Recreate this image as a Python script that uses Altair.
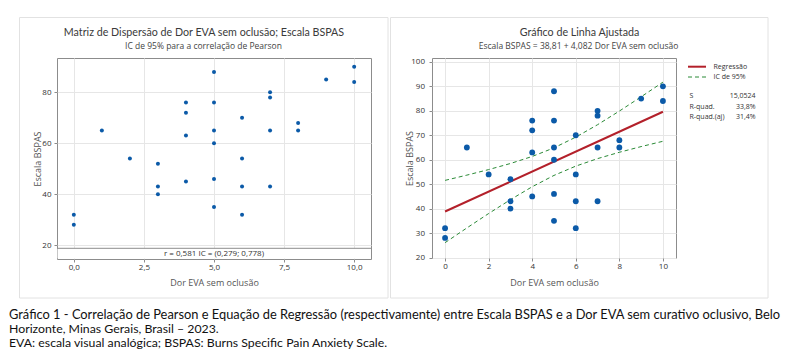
import altair as alt
import pandas as pd

# ---------------- data ----------------
dor_eva = [0, 0, 1, 2, 3, 3, 3, 4, 4, 4, 4, 5, 5, 5, 5, 5, 5,
           6, 6, 6, 6, 7, 7, 7, 7, 8, 8, 9, 10, 10]
escala_bspas = [32, 28, 65, 54, 52, 43, 40, 76, 72, 63, 45, 88, 76, 65, 60, 46, 35,
                70, 54, 43, 32, 80, 78, 65, 43, 68, 65, 85, 90, 84]

reg_x = [0, 10]
reg_y = [38.81, 79.63]

ci_x = [0, 1, 2, 3, 4, 5, 6, 7, 8, 9, 10]
ci_lower = [26.07, 32.09, 37.99, 43.66, 48.95, 53.58, 57.38, 60.45, 63.04, 65.37, 67.54]
ci_upper = [51.55, 53.69, 55.96, 58.45, 61.33, 64.86, 69.23, 74.32, 79.89, 85.73, 91.72]

left_x_ticks = [0, 2.5, 5, 7.5, 10]
left_y_ticks = [20, 40, 60, 80]
right_x_ticks = [0, 2, 4, 6, 8, 10]
right_y_ticks = [20, 30, 40, 50, 60, 70, 80, 90, 100]

legend_labels = ["Regressão", "IC de 95%"]
stat_labels = ["S", "R-quad.", "R-quad.(aj)"]
stat_values = ["15,0524", "33,8%", "31,4%"]

left_title = "Matriz de Dispersão de Dor EVA sem oclusão; Escala BSPAS"
left_subtitle = "IC  de 95% para a correlação de Pearson"
corr_text = "r = 0,581  IC = (0,279; 0,778)"
right_title = "Gráfico de Linha Ajustada"
right_subtitle = "Escala BSPAS = 38,81 + 4,082 Dor EVA sem oclusão"
x_title = "Dor EVA sem oclusão"
y_title = "Escala BSPAS"
caption_lines = [
    "Gráfico 1 - Correlação de Pearson e Equação de Regressão (respectivamente) entre Escala BSPAS e a Dor EVA sem curativo oclusivo, Belo",
    "Horizonte, Minas Gerais, Brasil – 2023.",
    "EVA: escala visual analógica; BSPAS: Burns Specific Pain Anxiety Scale.",
]

# ---------------- style ----------------
FONT = "Open Sans"
TITLE_FONT = "Lato"
CAP_FONT = "Lato"
BLUE = "#0b5aa8"
RED = "#b3202a"
GREEN = "#2a8a36"
FRAME = "#e2e2e2"
AX = "#8c8c8c"
TXT = "#333333"

LW, LH = 314, 201
RW, RH = 244, 200

pts = pd.DataFrame({"x": dor_eva, "y": escala_bspas})
reg = pd.DataFrame({"x": reg_x, "y": reg_y})
ci = pd.concat([
    pd.DataFrame({"x": ci_x, "y": ci_lower, "b": "lower"}),
    pd.DataFrame({"x": ci_x, "y": ci_upper, "b": "upper"}),
])
one = pd.DataFrame({"k": [0]})


def box(x1, x2, y1, y2, stroke=FRAME, fill=None):
    props = dict(strokeWidth=1)
    if fill is None:
        props.update(fillOpacity=0, stroke=stroke)
    else:
        props.update(fill=fill, strokeOpacity=0)
    return alt.Chart(one).mark_rect(**props).encode(
        x=alt.value(x1), x2=alt.value(x2), y=alt.value(y1), y2=alt.value(y2))


def txt(text, x, y, size, color=TXT, align="center", font=FONT, baseline="middle", **kw):
    return alt.Chart(one).mark_text(
        text=text, font=font, fontSize=size, color=color, align=align,
        baseline=baseline, **kw).encode(x=alt.value(x), y=alt.value(y))


axis_common = dict(
    grid=True, gridColor="#e6e6e6", domain=False, ticks=True, tickColor=AX,
    tickSize=3, labelFont=FONT, labelFontSize=8, labelColor=TXT,
    titleFont=FONT, titleFontSize=9, titleColor="#555555",
    titleBaseline="middle", titleAlign="center", titleFontWeight="normal",
)

# ---------------- left panel ----------------
lx = alt.X("x:Q", scale=alt.Scale(domain=[-0.6, 10.6], nice=False, zero=False),
           axis=alt.Axis(values=left_x_ticks, title=x_title,
                         labelExpr="replace(format(datum.value, '.1f'), '.', ',')",
                         labelPadding=1, titleX=LW / 2, titleY=23.5, **axis_common))
ly = alt.Y("y:Q", scale=alt.Scale(domain=[14.6, 93.45], nice=False, zero=False),
           axis=alt.Axis(values=left_y_ticks, title=y_title, labelPadding=3,
                         titleX=-20, titleY=LH / 2, titleAngle=270, **axis_common))

left_points = alt.Chart(pts).mark_circle(size=16, color=BLUE, opacity=1).encode(x=lx, y=ly)

left = alt.layer(
    box(-48, -38, -40, 0, fill="white"),
    box(-37.5, 331, -40.5, 240),
    left_points,
    box(0.5, LW - 0.5, 190.3, LH - 0.5, fill="white"),
    alt.Chart(one).mark_rule(color=AX, strokeWidth=1).encode(
        x=alt.value(0), x2=alt.value(LW), y=alt.value(190.3)),
    txt(corr_text, LW / 2, 196.2, 8),
    txt(left_title, 147, -25, 10.7, color="#3a3a3a", font=TITLE_FONT),
    txt(left_subtitle, 146.5, -11.7, 8.5, color="#444444"),
).properties(width=LW, height=LH)

# ---------------- right panel ----------------
rx = alt.X("x:Q", scale=alt.Scale(domain=[-0.6, 10.6], nice=False, zero=False),
           axis=alt.Axis(values=right_x_ticks, title=x_title, labelPadding=1,
                         titleX=RW / 2, titleY=24, **axis_common))
ry = alt.Y("y:Q", scale=alt.Scale(domain=[19.8, 101.6], nice=False, zero=False),
           axis=alt.Axis(values=right_y_ticks, title=y_title, labelPadding=4.5,
                         titleX=-22.5, titleY=RH / 2, titleAngle=270, **axis_common))

ci_lines = alt.Chart(ci).mark_line(color=GREEN, strokeWidth=1, strokeDash=[4, 3]).encode(
    x=rx, y=ry, detail="b:N")
reg_line = alt.Chart(reg).mark_line(color=RED, strokeWidth=2).encode(x=rx, y=ry)
right_points = alt.Chart(pts).mark_circle(size=34, color=BLUE, opacity=1).encode(x=rx, y=ry)

leg_x1, leg_x2, leg_tx = 256, 274, 281.5
right = alt.layer(
    box(-41.5, 336, -40.5, 240),
    ci_lines,
    reg_line,
    right_points,
    alt.Chart(one).mark_rule(color=RED, strokeWidth=2).encode(
        x=alt.value(leg_x1), x2=alt.value(leg_x2), y=alt.value(8.7)),
    alt.Chart(one).mark_rule(color=GREEN, strokeWidth=1, strokeDash=[4, 3]).encode(
        x=alt.value(leg_x1), x2=alt.value(leg_x2), y=alt.value(19)),
    txt(legend_labels[0], leg_tx, 8.7, 7, align="left"),
    txt(legend_labels[1], leg_tx, 19, 7, align="left"),
    txt("\n".join(stat_labels), 257.5, 38.4, 7, align="left",
        lineBreak="\n", lineHeight=10.5),
    txt("\n".join(stat_values), 323.5, 38.4, 7, align="right",
        lineBreak="\n", lineHeight=10.5),
    txt(right_title, 147.5, -25, 10.7, color="#3a3a3a", font=TITLE_FONT),
    txt(right_subtitle, 146.5, -12, 8.5, color="#444444"),
).properties(width=RW, height=RH)

# ---------------- caption ----------------
caption = alt.layer(
    txt(caption_lines[0], -48, -0.3, 12.85, color="#111111", align="left",
        font=CAP_FONT, baseline="top"),
    txt("\n".join(caption_lines[1:]), -48, 14, 12.3, color="#111111", align="left",
        font=CAP_FONT, baseline="top", lineBreak="\n", lineHeight=14),
).properties(width=1, height=1, view=alt.ViewBackground(stroke="transparent"))

chart = alt.vconcat(
    alt.hconcat(left, right, spacing=0),
    caption,
    spacing=9,
).properties(
    padding={"left": 0, "top": 8, "right": 0, "bottom": 0},
    background="white",
).configure_view(stroke=AX, strokeWidth=1)

chart.save("out.html", embed_options={"renderer": "svg", "actions": False})
